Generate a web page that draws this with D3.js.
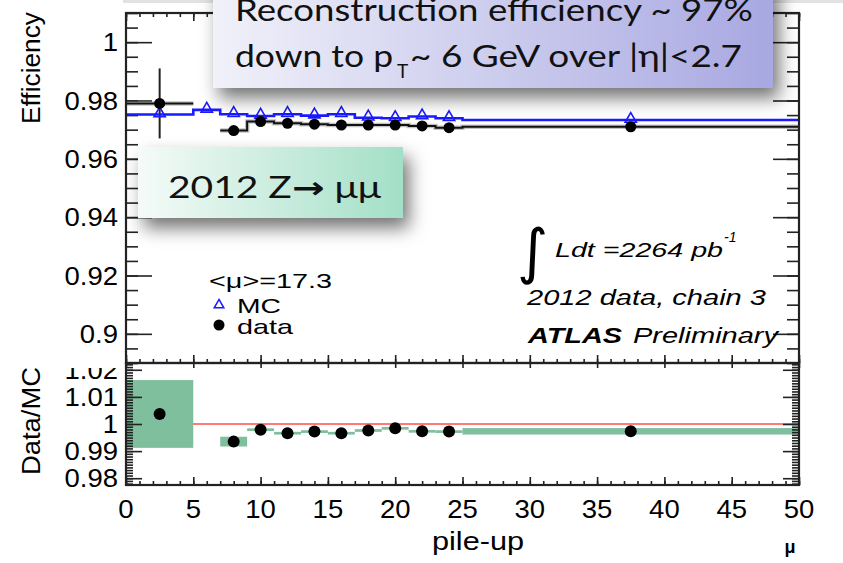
<!DOCTYPE html>
<html><head><meta charset="utf-8">
<script src="https://cdn.jsdelivr.net/npm/d3@7"></script>
<style>body{margin:0;background:#fff} svg{display:block}</style>
</head><body>
<svg id="chart" width="843" height="563"></svg>
<script>
// Muon reconstruction efficiency versus pile-up, 2012 Z -> mu mu tag-and-probe

// data bins (low edge, high edge, centre) and efficiencies
const dataLo  = [0, 7, 9, 11, 13, 15, 17, 19, 21, 23, 25];
const dataHi  = [5, 9, 11, 13, 15, 17, 19, 21, 23, 25, 50];
const dataMu  = [2.5, 8, 10, 12, 14, 16, 18, 20, 22, 24, 37.5];
const dataEff = [0.9790, 0.9697, 0.9728, 0.9722, 0.9719, 0.9716, 0.9716, 0.9716, 0.9713, 0.9707, 0.9710];
const dataErr = [0.0120, 0.0007, 0.0004, 0.0003, 0.0003, 0.0003, 0.0003, 0.0003, 0.0003, 0.0003, 0.0006];

// simulation bins and efficiencies
const mcLo  = [0, 5, 7, 9, 11, 13, 15, 17, 19, 21, 23, 25];
const mcHi  = [5, 7, 9, 11, 13, 15, 17, 19, 21, 23, 25, 50];
const mcMu  = [2.5, 6, 8, 10, 12, 14, 16, 18, 20, 22, 24, 37.5];
const mcEff = [0.9752, 0.9768, 0.9753, 0.9747, 0.9753, 0.9748, 0.9753, 0.9741, 0.9739, 0.9745, 0.9739, 0.9733];

// data / MC scale factors with their uncertainty bands (same bins as data)
const ratio    = [1.0037, 0.9935, 0.9979, 0.9966, 0.9972, 0.9966, 0.9976, 0.9984, 0.9973, 0.9972, 0.9973];
const ratioErr = [0.0125, 0.0018, 0.0005, 0.0005, 0.0005, 0.0005, 0.0005, 0.0005, 0.0005, 0.0005, 0.0012];

// axis ticks and labels
const xTicks = [0, 5, 10, 15, 20, 25, 30, 35, 40, 45, 50];
const xTickLabels = ["0", "5", "10", "15", "20", "25", "30", "35", "40", "45", "50"];
const effTicks = [0.9, 0.92, 0.94, 0.96, 0.98, 1];
const effTickLabels = ["0.9", "0.92", "0.94", "0.96", "0.98", "1"];
const ratioTicks = [0.98, 0.99, 1, 1.01, 1.02];
const ratioTickLabels = ["0.98", "0.99", "1", "1.01", "1.02"];

const svg = d3.select("#chart");
const L = 126, R = 799, T = 13, MID = 363, B = 485;
const FONT = "'Liberation Sans', Arial, Helvetica, sans-serif";
const BOX_FONT = "Lato, 'Open Sans', sans-serif";

const x = d3.scaleLinear().domain([0, 50]).range([L, R]);
const yTop = d3.scaleLinear().domain([0.89, 1.01]).range([MID, T]);
const yBot = d3.scaleLinear().domain([0.9775, 1.0225]).range([B, MID]);

const fit = (sel, w) => sel.attr("textLength", w).attr("lengthAdjust", "spacingAndGlyphs");
// widen the plot-frame lettering a little, as the canvas was drawn wide
const widen = (sel, k) => sel.each(function () {
  d3.select(this).attr("textLength", this.getComputedTextLength() * k).attr("lengthAdjust", "spacingAndGlyphs");
});

// defs: shadows and box gradients
const defs = svg.append("defs");
const sh = defs.append("filter").attr("id", "shadow")
  .attr("x", "-20%").attr("y", "-40%").attr("width", "150%").attr("height", "200%");
sh.append("feDropShadow").attr("dx", 6).attr("dy", 10).attr("stdDeviation", 9)
  .attr("flood-color", "#000").attr("flood-opacity", 0.55);
const g1 = defs.append("linearGradient").attr("id", "gradBlue");
g1.append("stop").attr("offset", "0%").attr("stop-color", "#f1f1fa");
g1.append("stop").attr("offset", "100%").attr("stop-color", "#a8a8e2");
const g2 = defs.append("linearGradient").attr("id", "gradGreen");
g2.append("stop").attr("offset", "0%").attr("stop-color", "#f5fbf8");
g2.append("stop").attr("offset", "100%").attr("stop-color", "#a3dfc7");

svg.append("rect").attr("x", 0).attr("y", 0).attr("width", 843).attr("height", 3).attr("fill", "#e2e2e2");

// ---------- lower panel: data / MC ----------
const lower = svg.append("g");
lower.append("line").attr("x1", x(0)).attr("x2", x(50)).attr("y1", yBot(1)).attr("y2", yBot(1))
  .attr("stroke", "#ff4d4d").attr("stroke-width", 1.6);
lower.selectAll("rect.band").data(ratio).join("rect").attr("class", "band")
  .attr("x", (d, i) => x(dataLo[i]))
  .attr("width", (d, i) => x(dataHi[i]) - x(dataLo[i]))
  .attr("y", (d, i) => yBot(d + ratioErr[i]))
  .attr("height", (d, i) => yBot(d - ratioErr[i]) - yBot(d + ratioErr[i]))
  .attr("fill", "#80bf9e");
lower.selectAll("circle").data(ratio).join("circle")
  .attr("cx", (d, i) => x(dataMu[i])).attr("cy", d => yBot(d)).attr("r", 6).attr("fill", "#000");

// tick marks only; labels are written separately
function ticks(g, axis, tx, ty) {
  const a = g.append("g").attr("transform", `translate(${tx},${ty})`).call(axis);
  a.select(".domain").remove();
  a.selectAll("text").remove();
  a.selectAll("line").attr("stroke", "#222").attr("stroke-width", 1.6);
}
const xMinor = d3.range(0, 51);
const botMinor = d3.range(978, 1023).map(i => i / 1000);
ticks(lower, d3.axisRight(yBot).tickValues(ratioTicks).tickSize(16), L, 0);
ticks(lower, d3.axisRight(yBot).tickValues(botMinor).tickSize(7), L, 0);
ticks(lower, d3.axisLeft(yBot).tickValues(ratioTicks).tickSize(16), R, 0);
ticks(lower, d3.axisLeft(yBot).tickValues(botMinor).tickSize(7), R, 0);
ticks(lower, d3.axisTop(x).tickValues(xTicks).tickSize(8), 0, B);
ticks(lower, d3.axisTop(x).tickValues(xMinor).tickSize(4), 0, B);
ticks(lower, d3.axisBottom(x).tickValues(xTicks).tickSize(5), 0, MID);

widen(lower.selectAll("text.ry").data(ratioTicks).join("text").attr("class", "ry")
  .attr("x", 118).attr("y", d => yBot(d)).attr("dy", "0.36em")
  .attr("text-anchor", "end").attr("font-family", FONT).attr("font-size", 25)
  .text((d, i) => ratioTickLabels[i]), 1.1);

// the upper panel hides the top half of the 1.02 label
svg.append("rect").attr("x", 0).attr("y", 0).attr("width", L - 3).attr("height", MID + 5).attr("fill", "#fff");

// ---------- upper panel: efficiencies ----------
const upper = svg.append("g");
const effMinor = d3.range(178, 203).map(i => i * 0.005);
ticks(upper, d3.axisRight(yTop).tickValues(effTicks).tickSize(26), L, 0);
ticks(upper, d3.axisRight(yTop).tickValues(effMinor).tickSize(12), L, 0);
ticks(upper, d3.axisLeft(yTop).tickValues(effTicks).tickSize(26), R, 0);
ticks(upper, d3.axisLeft(yTop).tickValues(effMinor).tickSize(12), R, 0);
ticks(upper, d3.axisBottom(x).tickValues(xTicks).tickSize(8), 0, T);
ticks(upper, d3.axisBottom(x).tickValues(xMinor).tickSize(4), 0, T);
ticks(upper, d3.axisTop(x).tickValues(xTicks).tickSize(8), 0, MID);
ticks(upper, d3.axisTop(x).tickValues(xMinor).tickSize(4), 0, MID);

// step outline through consecutive bins
function stepPath(lo, hi, v, yS) {
  const p = d3.path();
  lo.forEach((l, i) => {
    if (i === 0 || l !== hi[i - 1]) p.moveTo(x(l), yS(v[i]));
    else p.lineTo(x(l), yS(v[i]));
    p.lineTo(x(hi[i]), yS(v[i]));
  });
  return p.toString();
}
upper.append("path").attr("d", stepPath(dataLo, dataHi, dataEff, yTop))
  .attr("fill", "none").attr("stroke", "#7a7a7a").attr("stroke-width", 4.5).attr("opacity", 0.45);
upper.append("path").attr("d", stepPath(dataLo, dataHi, dataEff, yTop))
  .attr("fill", "none").attr("stroke", "#111").attr("stroke-width", 2);
upper.selectAll("line.ey").data(dataEff).join("line").attr("class", "ey")
  .attr("x1", (d, i) => x(dataMu[i])).attr("x2", (d, i) => x(dataMu[i]))
  .attr("y1", (d, i) => yTop(d - dataErr[i])).attr("y2", (d, i) => yTop(d + dataErr[i]))
  .attr("stroke", "#222").attr("stroke-width", 2);
upper.append("path").attr("d", stepPath(mcLo, mcHi, mcEff, yTop))
  .attr("fill", "none").attr("stroke", "#1a1aff").attr("stroke-width", 2.6);
const tri = d3.symbol().type(d3.symbolTriangle).size(55);
upper.selectAll("path.mc").data(mcEff).join("path").attr("class", "mc")
  .attr("d", tri).attr("transform", (d, i) => `translate(${x(mcMu[i])},${yTop(d) - 1})`)
  .attr("fill", "none").attr("stroke", "#1a1aff").attr("stroke-width", 1.6);
upper.selectAll("circle").data(dataEff).join("circle")
  .attr("cx", (d, i) => x(dataMu[i])).attr("cy", d => yTop(d)).attr("r", 5.5).attr("fill", "#000");

widen(upper.selectAll("text.ey").data(effTicks).join("text").attr("class", "ey")
  .attr("x", 118).attr("y", d => yTop(d)).attr("dy", "0.36em")
  .attr("text-anchor", "end").attr("font-family", FONT).attr("font-size", 25)
  .text((d, i) => effTickLabels[i]), 1.1);

// frames
[[T, MID], [MID, B]].forEach(([a, b]) => {
  svg.append("rect").attr("x", L).attr("y", a).attr("width", R - L).attr("height", b - a)
    .attr("fill", "none").attr("stroke", "#222").attr("stroke-width", 2.2);
});

// x labels
widen(svg.selectAll("text.xl").data(xTicks).join("text").attr("class", "xl")
  .attr("x", d => x(d)).attr("y", 518).attr("text-anchor", "middle")
  .attr("font-family", FONT).attr("font-size", 25).text((d, i) => xTickLabels[i]), 1.1);
fit(svg.append("text").attr("x", 478).attr("y", 550).attr("text-anchor", "middle")
  .attr("font-family", FONT).attr("font-size", 26).text("pile-up"), 92);
svg.append("text").attr("x", 790).attr("y", 553).attr("text-anchor", "middle")
  .attr("font-family", FONT).attr("font-size", 18).attr("font-weight", "bold").text("μ");

// y titles
fit(svg.append("text").attr("transform", "translate(40,68) rotate(-90)").attr("text-anchor", "middle")
  .attr("font-family", FONT).attr("font-size", 25).text("Efficiency"), 112);
fit(svg.append("text").attr("transform", "translate(40,421) rotate(-90)").attr("text-anchor", "middle")
  .attr("font-family", FONT).attr("font-size", 25).text("Data/MC"), 108);

// legend
fit(svg.append("text").attr("x", 209).attr("y", 288).attr("font-family", FONT).attr("font-size", 21).text("<μ>=17.3"), 123);
svg.append("path").attr("d", d3.symbol().type(d3.symbolTriangle).size(40))
  .attr("transform", "translate(219,305)").attr("fill", "none").attr("stroke", "#1a1aff").attr("stroke-width", 1.5);
fit(svg.append("text").attr("x", 237).attr("y", 313).attr("font-family", FONT).attr("font-size", 21).text("MC"), 44);
svg.append("circle").attr("cx", 219).attr("cy", 325).attr("r", 5.5).attr("fill", "#000");
fit(svg.append("text").attr("x", 237).attr("y", 334).attr("font-family", FONT).attr("font-size", 21).text("data"), 56);

// luminosity and experiment labels
svg.append("text").attr("x", 517).attr("y", 272).attr("font-family", "'DejaVu Sans', sans-serif")
  .attr("font-size", 60).text("∫");
fit(svg.append("text").attr("x", 555).attr("y", 257).attr("font-family", FONT).attr("font-style", "italic")
  .attr("font-size", 21).text("Ldt =2264 pb"), 168);
svg.append("text").attr("x", 724).attr("y", 242).attr("font-family", FONT).attr("font-style", "italic")
  .attr("font-size", 14).text("-1");
fit(svg.append("text").attr("x", 527).attr("y", 305).attr("font-family", FONT).attr("font-style", "italic")
  .attr("font-size", 22).text("2012 data, chain 3"), 239);
fit(svg.append("text").attr("x", 528).attr("y", 343).attr("font-family", FONT).attr("font-style", "italic")
  .attr("font-weight", "bold").attr("font-size", 22).text("ATLAS"), 94);
fit(svg.append("text").attr("x", 633).attr("y", 343).attr("font-family", FONT).attr("font-style", "italic")
  .attr("font-size", 22).text("Preliminary"), 145);

// callout boxes
svg.append("rect").attr("x", 213).attr("y", -20).attr("width", 560).attr("height", 108)
  .attr("fill", "url(#gradBlue)").attr("filter", "url(#shadow)");
fit(svg.append("text").attr("x", 235).attr("y", 21).attr("font-family", BOX_FONT).attr("font-size", 30)
  .attr("fill", "#111").text("Reconstruction efficiency ~ 97%"), 518);
fit(svg.append("text").attr("x", 235).attr("y", 67).attr("font-family", BOX_FONT).attr("font-size", 30)
  .attr("fill", "#111").text("down to p"), 158);
svg.append("text").attr("x", 397).attr("y", 78).attr("font-family", BOX_FONT).attr("font-size", 19)
  .attr("fill", "#111").text("T");
fit(svg.append("text").attr("x", 410).attr("y", 67).attr("font-family", BOX_FONT).attr("font-size", 30)
  .attr("fill", "#111").text("~ 6 GeV over |η|<2.7"), 332);

svg.append("rect").attr("x", 138).attr("y", 147).attr("width", 265).attr("height", 71)
  .attr("fill", "url(#gradGreen)").attr("filter", "url(#shadow)");
const zt = svg.append("text").attr("x", 168).attr("y", 198).attr("font-family", BOX_FONT)
  .attr("font-size", 30).attr("fill", "#111");
zt.append("tspan").text("2012 Z");
zt.append("tspan").attr("font-weight", "bold").attr("font-family", "'DejaVu Sans', sans-serif").text("→");
zt.append("tspan").text(" μμ");
fit(zt, 213);
</script>
</body></html>
